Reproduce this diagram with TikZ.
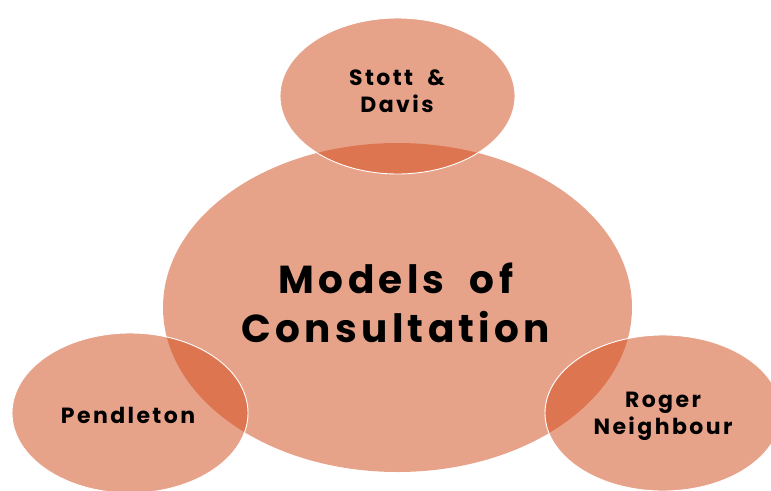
\documentclass[tikz,border=0pt]{standalone}
\usepackage{fontspec}
\setmainfont{Poppins}
\newfontfamily\labelfont{Poppins}[LetterSpace=11,WordSpace=2]
\begin{document}
\definecolor{petal}{RGB}{208,72,22}
\begin{tikzpicture}[x=1pt,y=-1pt,
  bubble/.style={fill=petal,fill opacity=0.5,draw=none},
  satellite/.style={bubble,draw=white,draw opacity=1,line width=0.9pt},
  hub/.style={text=black,align=center,
    font={\labelfont\bfseries\fontsize{39}{49}\selectfont}},
  leaf/.style={text=black,align=center,
    font={\labelfont\bfseries\fontsize{22}{27}\selectfont}}]
\useasboundingbox (0,0) rectangle (771,490);
% central ellipse
\fill[bubble] (397.5,307.5) ellipse [x radius=234.5, y radius=164.5];
% satellite ellipses
\filldraw[satellite] (397.5,96) ellipse [x radius=117.5, y radius=78];
\filldraw[satellite] (130,413) ellipse [x radius=118, y radius=80];
\filldraw[satellite] (663,413) ellipse [x radius=118, y radius=78];
% labels
\node[hub] (hub) at (396,302.5) {Models of\\Consultation};
\node[leaf] (top) at (397,91.5) {Stott \&\\Davis};
\node[leaf] (left) at (128,415) {Pendleton};
\node[leaf] (right) at (663,416.5) {Roger\\Neighbour};
\end{tikzpicture}
\end{document}
